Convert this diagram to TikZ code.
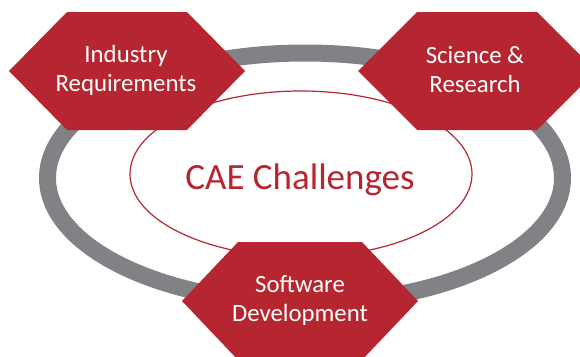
\documentclass[tikz,border=0pt]{standalone}
\usepackage{fontspec}
\setmainfont{Carlito}
\usetikzlibrary{shapes.geometric}
\definecolor{caered}{RGB}{182,38,48}
\definecolor{ringgray}{RGB}{128,130,134}
\tikzset{
  ringstyle/.style={draw=ringgray, line width=17pt},
  coreellipse/.style={ellipse, draw=caered, line width=1.2pt, fill=white,
    minimum width=342pt, minimum height=166pt, inner sep=0pt},
  coretext/.style={text=caered, inner sep=0pt, font=\fontsize{37}{42}\selectfont},
  hexfill/.style={fill=caered},
  hextext/.style={text=white, align=center, inner sep=0pt,
    font=\fontsize{24.8}{29}\selectfont}
}
\begin{document}
\begin{tikzpicture}[x=1pt,y=-1pt]
\useasboundingbox (0,0) rectangle (580,356);
\clip (0,0) rectangle (580,356);
% outer ring
\draw[ringstyle] (305,178) ellipse [x radius=257.5, y radius=125];
% central ellipse
\node[coreellipse] (core) at (301,174) {};
\node[coretext] (cae) at (300,180) {CAE Challenges};
% hexagons
\fill[hexfill] (127,71) ++(-118,0) -- ++(58,-59) -- ++(120,0) -- ++(58,59)
  -- ++(-58,59) -- ++(-120,0) -- cycle;
\fill[hexfill] (477,71) ++(-119,0) -- ++(59,-59) -- ++(120,0) -- ++(59,59)
  -- ++(-59,59) -- ++(-120,0) -- cycle;
\fill[hexfill] (300,301) ++(-118,0) -- ++(56,-59) -- ++(124,0) -- ++(56,59)
  -- ++(-56,59) -- ++(-124,0) -- cycle;
\node[hextext] (ind) at (126,70) {Industry\\Requirements};
\node[hextext] (sci) at (475,70) {Science \&\\Research};
\node[hextext] (soft) at (300,300) {Software\\Development};
\end{tikzpicture}
\end{document}
